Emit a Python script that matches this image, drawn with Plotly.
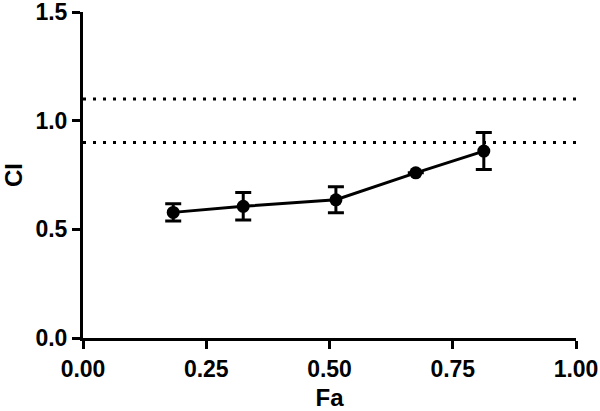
import plotly.graph_objects as go

fa = [0.183, 0.325, 0.513, 0.675, 0.813]
ci = [0.578, 0.606, 0.636, 0.760, 0.860]
ci_err = [0.040, 0.063, 0.060, 0.0, 0.085]
ref_lines = [0.9, 1.1]
x_ticks = [0.0, 0.25, 0.5, 0.75, 1.0]
y_ticks = [0.0, 0.5, 1.0, 1.5]

font_family = "Liberation Sans, Arial, sans-serif"

fig = go.Figure()

for r in ref_lines:
    fig.add_trace(go.Scatter(
        x=[0, 1], y=[r, r], mode="lines",
        line=dict(color="black", width=3, dash="3px,7px"),
        hoverinfo="skip", showlegend=False, cliponaxis=False))

fig.add_trace(go.Scatter(
    x=fa, y=ci, mode="lines+markers",
    line=dict(color="black", width=3),
    marker=dict(color="black", size=13, symbol="circle"),
    error_y=dict(type="data", array=ci_err, visible=True,
                 color="black", thickness=3, width=8),
    showlegend=False, cliponaxis=False))

fig.update_layout(
    width=600, height=411,
    margin=dict(l=83, r=24, t=12, b=73),
    paper_bgcolor="white", plot_bgcolor="white",
    font=dict(family=font_family, color="black", size=23, weight="bold"),
    xaxis=dict(
        range=[0, 1], tickvals=x_ticks, tickformat=".2f",
        showline=True, linecolor="black", linewidth=3,
        ticks="outside", ticklen=8, tickwidth=3, tickcolor="black",
        showgrid=False, zeroline=False, automargin=False,
        ticklabeloverflow="allow",
        tickfont=dict(family=font_family, size=23, weight="bold"),
        title=dict(text="Fa", standoff=12,
                   font=dict(family=font_family, size=24, weight="bold")),
    ),
    yaxis=dict(
        range=[0, 1.5], tickvals=y_ticks, tickformat=".1f",
        showline=True, linecolor="black", linewidth=3,
        ticks="outside", ticklen=8, tickwidth=3, tickcolor="black",
        showgrid=False, zeroline=False, automargin=False,
        ticklabeloverflow="allow",
        tickfont=dict(family=font_family, size=23, weight="bold"),
        title=dict(text="CI", standoff=16,
                   font=dict(family=font_family, size=24, weight="bold")),
    ),
)

fig.write_html("out.html",
               config={"displayModeBar": False},
               post_script="document.body.style.margin='0';document.body.style.padding='0';")
